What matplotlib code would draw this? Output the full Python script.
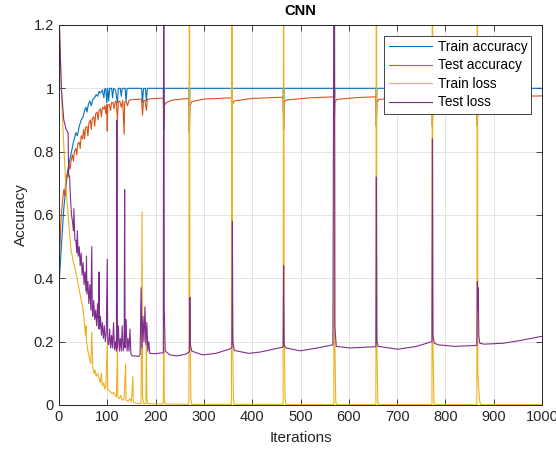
import matplotlib
matplotlib.use("Agg")
import matplotlib.pyplot as plt

plt.rcParams['font.family'] = ['Liberation Sans', 'DejaVu Sans']

# Train accuracy (iteration, value)
train_acc_it = [0, 5, 10, 14, 18, 22, 26, 30, 35, 38, 42, 46, 50, 53, 56, 58, 61, 64, 67, 70,
                74, 77, 80, 83, 86, 90, 93, 95, 97, 99, 101, 103, 105, 109, 111, 113, 117, 121,
                123, 127, 129, 131, 137, 139, 141, 150, 160, 171, 173, 175, 179, 181, 183,
                216, 217, 218, 269, 270, 271, 357, 358, 359, 464, 465, 466, 569, 570, 571,
                656, 657, 658, 772, 773, 774, 865, 866, 867, 1000]
train_acc = [0.37, 0.5, 0.62, 0.68, 0.74, 0.77, 0.8, 0.83, 0.86, 0.85, 0.88, 0.9, 0.91, 0.93,
             0.94, 0.925, 0.95, 0.96, 0.945, 0.965, 0.97, 0.98, 0.975, 0.99, 0.985, 0.995,
             0.97, 0.998, 1.0, 0.955, 1.0, 0.96, 1.0, 1.0, 0.97, 1.0, 0.995, 0.955, 1.0, 1.0,
             0.975, 1.0, 1.0, 0.96, 1.0, 1.0, 1.0, 1.0, 0.955, 1.0, 1.0, 0.96, 1.0,
             1.0, 0.87, 1.0, 1.0, 0.86, 1.0, 1.0, 0.86, 1.0, 1.0, 0.87, 1.0, 1.0, 0.88, 1.0,
             1.0, 0.88, 1.0, 1.0, 0.88, 1.0, 1.0, 0.88, 1.0, 1.0]

# Test accuracy
test_acc_it = [0, 2, 4, 6, 8, 10, 12, 14, 17, 19, 21, 23, 25, 28, 30, 32, 35, 37, 39, 42, 44,
               46, 49, 51, 53, 55, 58, 60, 62, 65, 67, 69, 72, 74, 76, 79, 81, 83, 86, 88, 90,
               93, 95, 97, 99, 100, 101, 104, 107, 109, 112, 114, 117, 119, 121, 123, 126,
               129, 132, 135, 136, 139, 142, 145, 150, 160, 171, 173, 175, 178, 181, 183,
               190, 200, 216, 217, 218, 222, 235, 269, 270, 271, 275, 300, 357, 358, 359,
               363, 400, 464, 465, 466, 470, 520, 569, 570, 571, 575, 620, 656, 657, 658,
               662, 720, 772, 773, 774, 778, 830, 865, 866, 867, 871, 920, 1000]
test_acc = [0.42, 0.5, 0.58, 0.62, 0.65, 0.68, 0.66, 0.71, 0.73, 0.72, 0.76, 0.745, 0.77,
            0.79, 0.77, 0.8, 0.81, 0.79, 0.825, 0.83, 0.81, 0.85, 0.84, 0.87, 0.84, 0.875,
            0.88, 0.85, 0.89, 0.9, 0.87, 0.905, 0.91, 0.88, 0.92, 0.925, 0.9, 0.93, 0.935,
            0.91, 0.94, 0.935, 0.945, 0.92, 0.95, 0.865, 0.945, 0.95, 0.93, 0.955, 0.955,
            0.935, 0.96, 0.955, 0.9, 0.958, 0.96, 0.94, 0.962, 0.855, 0.955, 0.96, 0.945,
            0.962, 0.964, 0.965, 0.966, 0.915, 0.96, 0.963, 0.93, 0.965, 0.967, 0.968,
            0.969, 0.9, 0.945, 0.955, 0.963, 0.968, 0.86, 0.945, 0.958, 0.966, 0.97, 0.86,
            0.95, 0.96, 0.968, 0.972, 0.87, 0.955, 0.963, 0.97, 0.973, 0.88, 0.955, 0.965,
            0.971, 0.973, 0.88, 0.955, 0.965, 0.972, 0.974, 0.88, 0.957, 0.967, 0.973, 0.975,
            0.88, 0.958, 0.968, 0.974, 0.976]

# Train loss
train_loss_it = [0, 3, 6, 10, 14, 18, 21, 25, 30, 35, 40, 45, 49, 52, 55, 56, 57, 60, 63, 66,
                 68, 70, 73, 75, 77, 80, 83, 86, 88, 90, 93, 95, 97, 100, 101, 104, 107, 110,
                 113, 116, 119, 121, 122, 125, 128, 131, 135, 138, 139, 143, 147, 150, 153,
                 154, 160, 170, 172, 173, 175, 180, 181, 182, 184, 216, 217, 218, 220, 269,
                 270, 271, 273, 275, 357, 358, 359, 361, 363, 464, 465, 466, 468, 470, 569,
                 570, 571, 573, 575, 656, 657, 658, 660, 662, 772, 773, 774, 776, 778, 865,
                 866, 867, 869, 871, 873, 1000]
train_loss = [1.25, 1.1, 0.95, 0.82, 0.7, 0.62, 0.56, 0.49, 0.45, 0.42, 0.38, 0.34, 0.31,
              0.27, 0.22, 0.25, 0.2, 0.17, 0.15, 0.13, 0.23, 0.12, 0.1, 0.11, 0.09, 0.1,
              0.085, 0.07, 0.1, 0.06, 0.07, 0.05, 0.055, 0.195, 0.05, 0.045, 0.04, 0.035,
              0.04, 0.03, 0.025, 0.18, 0.025, 0.02, 0.03, 0.015, 0.02, 0.13, 0.015, 0.012,
              0.02, 0.01, 0.09, 0.008, 0.005, 0.004, 0.61, 0.03, 0.005, 0.004, 0.24, 0.02,
              0.004, 0.003, 0.27, 0.02, 0.003, 0.002, 2.0, 0.3, 0.02, 0.002, 0.002, 2.0, 0.3,
              0.02, 0.002, 0.002, 2.0, 0.3, 0.02, 0.001, 0.001, 2.0, 0.2, 0.01, 0.001, 0.001,
              2.0, 0.2, 0.01, 0.001, 0.001, 2.0, 0.2, 0.01, 0.001, 0.001, 2.0, 0.1, 0.05,
              0.01, 0.001, 0.001]

# Test loss
test_loss_it = [0, 5, 10, 15, 19, 20, 22, 24, 26, 28, 30, 31, 33, 35, 37, 38, 40, 42, 44, 46,
                48, 50, 52, 54, 56, 57, 58, 60, 62, 64, 66, 68, 69, 70, 72, 74, 76, 78, 80,
                82, 83, 84, 86, 88, 90, 92, 94, 96, 98, 100, 101, 103, 105, 107, 109, 111,
                113, 115, 117, 119, 120, 121, 123, 125, 127, 129, 131, 133, 135, 136, 137,
                139, 141, 143, 145, 147, 149, 152, 158, 165, 168, 170, 172, 174, 176, 178,
                180, 182, 184, 186, 188, 200, 216, 217, 218, 220, 230, 244, 262, 270, 271,
                272, 275, 298, 325, 354, 358, 359, 360, 363, 393, 416, 437, 464, 465, 466,
                470, 499, 535, 567, 570, 571, 574, 602, 656, 657, 658, 661, 701, 740, 772,
                773, 774, 777, 785, 819, 865, 866, 867, 868, 869, 871, 880, 920, 960, 1000]
test_loss = [1.25, 1.0, 0.9, 0.87, 0.86, 0.73, 0.72, 0.65, 0.6, 0.58, 0.55, 0.62, 0.52, 0.52,
             0.48, 0.55, 0.47, 0.5, 0.44, 0.48, 0.41, 0.45, 0.38, 0.42, 0.36, 0.47, 0.35,
             0.39, 0.32, 0.38, 0.3, 0.5, 0.3, 0.28, 0.33, 0.27, 0.3, 0.25, 0.32, 0.24, 0.42,
             0.24, 0.28, 0.22, 0.26, 0.21, 0.25, 0.2, 0.23, 0.46, 0.2, 0.19, 0.24, 0.18,
             0.22, 0.18, 0.26, 0.175, 0.2, 0.17, 0.9, 0.18, 0.25, 0.17, 0.21, 0.17, 0.25,
             0.17, 0.2, 0.68, 0.18, 0.27, 0.17, 0.21, 0.17, 0.24, 0.16, 0.155, 0.155, 0.153,
             0.16, 0.37, 0.18, 0.28, 0.2, 0.31, 0.19, 0.26, 0.17, 0.2, 0.163, 0.162, 0.165,
             2.0, 0.3, 0.17, 0.158, 0.155, 0.16, 0.168, 0.34, 0.19, 0.17, 0.158, 0.163,
             0.177, 0.182, 0.58, 0.2, 0.172, 0.163, 0.167, 0.174, 0.183, 0.44, 0.19, 0.18,
             0.171, 0.18, 0.19, 2.0, 0.25, 0.185, 0.18, 0.184, 0.72, 0.2, 0.185, 0.176,
             0.185, 0.2, 0.84, 0.22, 0.195, 0.19, 0.185, 0.188, 0.39, 0.3, 0.37, 0.22, 0.195,
             0.192, 0.195, 0.205, 0.217]

labels = ['Train accuracy', 'Test accuracy', 'Train loss', 'Test loss']
colors = ['#0072BD', '#D95319', '#EDB120', '#7E2F8E']

fig = plt.figure(figsize=(5.56, 4.54), dpi=100)
ax = fig.add_axes([0.106, 0.108, 0.869, 0.837])

ax.plot(train_acc_it, train_acc, color=colors[0], lw=0.8, label=labels[0])
ax.plot(test_acc_it, test_acc, color=colors[1], lw=0.8, label=labels[1])
ax.plot(train_loss_it, train_loss, color=colors[2], lw=0.8, label=labels[2])
ax.plot(test_loss_it, test_loss, color=colors[3], lw=0.8, label=labels[3])

ax.set_xlim(0, 1000)
ax.set_ylim(0, 1.2)
ax.set_xticks(range(0, 1001, 100))
ax.set_yticks([0, 0.2, 0.4, 0.6, 0.8, 1.0, 1.2])
ax.set_yticklabels(['0', '0.2', '0.4', '0.6', '0.8', '1', '1.2'])
ax.grid(True, color='#dfdfdf', lw=0.6)
ax.set_axisbelow(True)
ax.tick_params(direction='in', top=True, right=True, labelsize=10.5, colors='#262626',
               length=4, width=0.6)
for s in ax.spines.values():
    s.set_color('#262626')
    s.set_linewidth(0.7)

ax.set_title('CNN', fontsize=10.5, fontweight='bold', color='#000000', pad=7)
ax.set_xlabel('Iterations', fontsize=11, color='#262626', labelpad=5)
ax.set_ylabel('Accuracy', fontsize=11, color='#262626', labelpad=4)

leg = ax.legend(loc='upper right', fontsize=9.8, fancybox=False, framealpha=1,
                edgecolor='#262626', handlelength=3.2, borderpad=0.3, labelspacing=0.33,
                handletextpad=0.4, borderaxespad=0.8)
leg.get_frame().set_linewidth(0.6)

fig.savefig('out.png', dpi=100)
